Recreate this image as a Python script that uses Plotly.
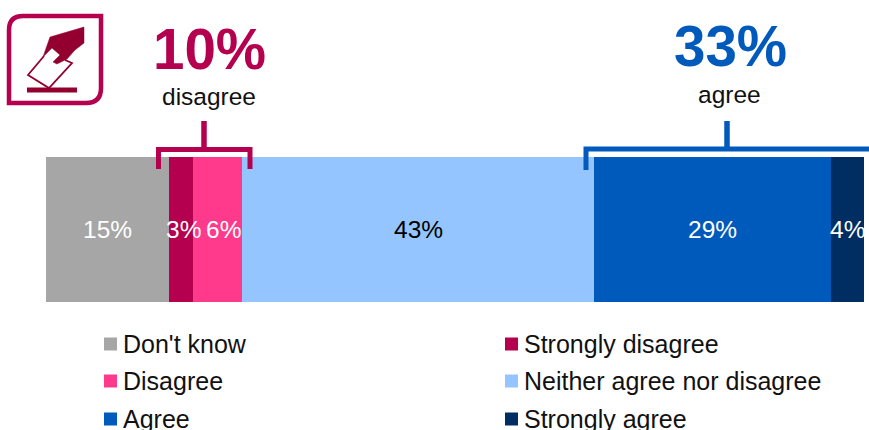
import plotly.graph_objects as go

categories = ["Don't know", "Strongly disagree", "Disagree",
              "Neither agree nor disagree", "Agree", "Strongly agree"]
values = [15, 3, 6, 43, 29, 4]
labels = ["15%", "3%", "6%", "43%", "29%", "4%"]
colors = ["#A6A6A6", "#B5004F", "#FF3A8C", "#94C5FF", "#005ABB", "#002D62"]
text_colors = ["white", "white", "white", "black", "white", "white"]

MAGENTA = "#B5004F"
DARK_MAGENTA = "#93002F"
BLUE = "#005ABB"
FONT = "Liberation Sans"

W, H = 869, 430
L, R, T, B = 46, 864, 157, 302
label_shift = [0, 3, 5.5, 0, 0, 0]


def px(x):
    return (x - L) / (R - L)


def py(y):
    return (B - y) / (B - T)


def path(points, close=True):
    s = "M " + " L ".join(f"{px(x):.5f},{py(y):.5f}" for x, y in points)
    return s + (" Z" if close else "")


fig = go.Figure()
for name, v, c in zip(categories, values, colors):
    fig.add_trace(go.Bar(
        y=[0], x=[v], name=name, orientation="h", width=1,
        marker=dict(color=c, line=dict(width=0)),
        hoverinfo="name+x",
    ))

shapes = []


def line_shape(points, color, width, close=False, fill=None):
    shapes.append(dict(type="path", xref="paper", yref="paper",
                       path=path(points, close),
                       line=dict(color=color, width=width),
                       fillcolor=fill if fill else "rgba(0,0,0,0)"))


# brackets
line_shape([(158.5, 169), (158.5, 149.5), (250, 149.5), (250, 169)], MAGENTA, 5)
line_shape([(204, 121), (204, 147)], MAGENTA, 5.5)
line_shape([(586, 170), (586, 149), (872, 149)], BLUE, 5)
line_shape([(727, 121), (727, 147)], BLUE, 5.5)

# icon frame
shapes.append(dict(type="path", xref="paper", yref="paper",
                   path=(f"M {px(9):.5f},{py(103):.5f} L {px(9):.5f},{py(30):.5f} "
                         f"Q {px(9):.5f},{py(16):.5f} {px(23):.5f},{py(16):.5f} "
                         f"L {px(101):.5f},{py(16):.5f} L {px(101):.5f},{py(88):.5f} "
                         f"Q {px(101):.5f},{py(103):.5f} {px(86):.5f},{py(103):.5f} Z"),
                   line=dict(color=MAGENTA, width=4.5), fillcolor="rgba(0,0,0,0)"))
# ballot
line_shape([(44, 56), (28, 75), (49, 88), (72, 63), (65, 60)], DARK_MAGENTA, 1.8)
# hand
line_shape([(50, 37), (84, 27), (84, 43), (75, 50), (67, 59), (57, 64),
            (53, 62), (60, 55), (52, 48), (43, 57)],
           DARK_MAGENTA, 0.5, close=True, fill=DARK_MAGENTA)
# base line of the box
line_shape([(27, 90), (77, 90)], DARK_MAGENTA, 5)

annotations = []

# value labels, centred on each stacked segment
start = 0
for v, lab, tc, dx in zip(values, labels, text_colors, label_shift):
    annotations.append(dict(
        xref="x", yref="y", x=start + v / 2, y=0, text=lab, xshift=dx,
        showarrow=False, xanchor="center", yanchor="middle",
        font=dict(family=FONT, size=24.5, color=tc)))
    start += v


def text(x, y, s, size, color="#111111", bold=False, anchor="center"):
    annotations.append(dict(
        xref="paper", yref="paper", x=px(x), y=py(y), text=f"<b>{s}</b>" if bold else s,
        showarrow=False, xanchor=anchor, yanchor="middle",
        font=dict(family=FONT, size=size, color=color)))


text(209.5, 49, "10%", 56.5, MAGENTA, True)
text(209, 96, "disagree", 24.5)
text(730, 46, "33%", 56.5, BLUE, True)
text(729, 94, "agree", 24.5)

# manual two-column legend
col_x = [104, 505]
row_y = [344, 381, 419]
for i, (name, c) in enumerate(zip(categories, colors)):
    cx, cy = col_x[i % 2], row_y[i // 2]
    shapes.append(dict(type="rect", xref="paper", yref="paper",
                       x0=px(cx), x1=px(cx + 13), y0=py(cy - 6.5), y1=py(cy + 6.5),
                       line=dict(width=0), fillcolor=c))
    text(cx + 17, cy - 0.5, name, 25, anchor="left")

fig.update_layout(
    width=W, height=H, autosize=False, barmode="stack", bargap=0,
    margin=dict(l=L, r=W - R, t=T, b=H - B, pad=0),
    paper_bgcolor="white", plot_bgcolor="white", showlegend=False,
    xaxis=dict(range=[0, sum(values)], visible=False, fixedrange=True),
    yaxis=dict(range=[-0.5, 0.5], visible=False, fixedrange=True),
    shapes=shapes, annotations=annotations,
    font=dict(family=FONT),
)
fig.write_html("out.html", config=dict(displayModeBar=False),
               post_script="document.body.style.margin='0';document.body.style.overflow='hidden';")
